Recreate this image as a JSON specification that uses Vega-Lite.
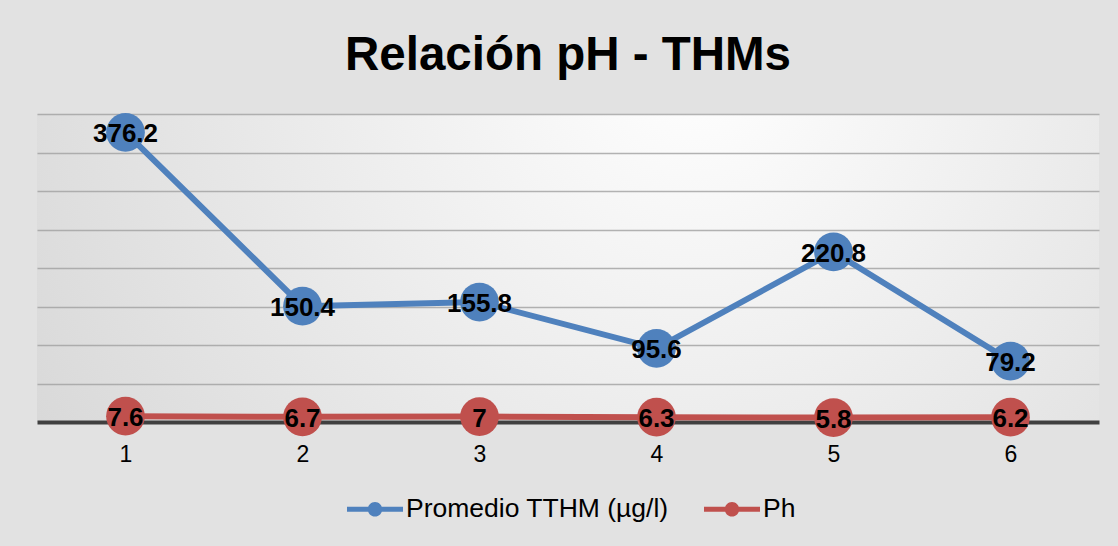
{
  "$schema": "https://vega.github.io/schema/vega-lite/v6.json",
  "width": 1062,
  "height": 308,
  "autosize": {"type": "none"},
  "padding": {"left": 37, "top": 114, "right": 19, "bottom": 124},
  "background": "#e2e2e2",
  "config": {
    "font": "Liberation Sans",
    "view": {
      "stroke": null,
      "fill": {
        "gradient": "radial",
        "x1": 0.62, "y1": 0.3, "r1": 0,
        "x2": 0.62, "y2": 0.3, "r2": 0.8,
        "stops": [
          {"offset": 0, "color": "#ffffff"},
          {"offset": 1, "color": "#d4d4d4"}
        ]
      }
    }
  },
  "title": {
    "text": "Relación pH - THMs",
    "fontSize": 47.5,
    "fontWeight": "bold",
    "color": "#000000",
    "anchor": "middle",
    "baseline": "alphabetic",
    "offset": -5
  },
  "data": {
    "values": [
      {"x": 1, "serie": "Promedio TTHM (µg/l)", "valor": 376.2},
      {"x": 2, "serie": "Promedio TTHM (µg/l)", "valor": 150.4},
      {"x": 3, "serie": "Promedio TTHM (µg/l)", "valor": 155.8},
      {"x": 4, "serie": "Promedio TTHM (µg/l)", "valor": 95.6},
      {"x": 5, "serie": "Promedio TTHM (µg/l)", "valor": 220.8},
      {"x": 6, "serie": "Promedio TTHM (µg/l)", "valor": 79.2},
      {"x": 1, "serie": "Ph", "valor": 7.6},
      {"x": 2, "serie": "Ph", "valor": 6.7},
      {"x": 3, "serie": "Ph", "valor": 7},
      {"x": 4, "serie": "Ph", "valor": 6.3},
      {"x": 5, "serie": "Ph", "valor": 5.8},
      {"x": 6, "serie": "Ph", "valor": 6.2}
    ]
  },
  "encoding": {
    "x": {
      "field": "x",
      "type": "ordinal",
      "scale": {"type": "point", "padding": 0.5},
      "axis": {
        "title": null,
        "labelAngle": 0,
        "ticks": false,
        "grid": false,
        "domainColor": "#404040",
        "domainWidth": 4,
        "labelFontSize": 23,
        "labelColor": "#000000",
        "labelPadding": 21
      }
    },
    "y": {
      "field": "valor",
      "type": "quantitative",
      "scale": {"domain": [0, 400], "nice": false},
      "axis": {
        "title": null,
        "labels": false,
        "ticks": false,
        "domain": false,
        "values": [50, 100, 150, 200, 250, 300, 350, 400],
        "gridColor": "#a0a0a0",
        "gridWidth": 1.3,
        "gridOpacity": 0.8
      }
    },
    "color": {
      "field": "serie",
      "type": "nominal",
      "scale": {
        "domain": ["Promedio TTHM (µg/l)", "Ph"],
        "range": ["#4f81bd", "#c0504d"]
      },
      "legend": {
        "title": null,
        "orient": "none",
        "direction": "horizontal",
        "legendX": 310,
        "legendY": 367,
        "symbolType": "M -1 -0.09 H -0.245 V 0.09 H -1 Z M 0.245 -0.09 H 1 V 0.09 H 0.245 Z M 0.26 0 A 0.26 0.26 0 1 1 -0.26 0 A 0.26 0.26 0 1 1 0.26 0 Z",
        "symbolSize": 3136,
        "symbolStrokeWidth": 0,
        "symbolOpacity": 1,
        "labelFontSize": 26.5,
        "labelColor": "#000000",
        "labelOffset": 3,
        "labelLimit": 400,
        "columnPadding": 35
      }
    }
  },
  "layer": [
    {"mark": {"type": "line", "strokeWidth": 6}},
    {"mark": {"type": "circle", "size": 1500, "opacity": 1}},
    {
      "mark": {"type": "text", "fontSize": 26, "fontWeight": "bold", "color": "#000000", "baseline": "middle", "dy": 2},
      "encoding": {
        "text": {"field": "valor", "type": "nominal"},
        "color": {"value": "#000000"}
      }
    }
  ]
}
